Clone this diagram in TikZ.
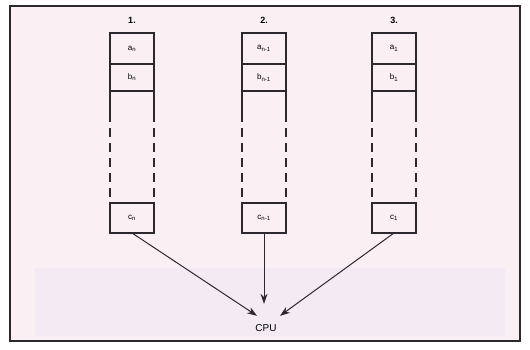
\documentclass[tikz,border=0pt]{standalone}
\usepackage{fontspec}
\setmainfont{Liberation Sans}
\usetikzlibrary{arrows.meta, positioning}
\definecolor{paper}{RGB}{250,239,242}
\definecolor{band}{RGB}{244,234,244}
\definecolor{ink}{RGB}{45,40,45}
\tikzstyle{cell} = [rectangle, draw=ink, line width=1.1pt, minimum width=44pt, inner sep=0pt, outer sep=0pt, font=\fontsize{8}{9}\selectfont]
\tikzstyle{numlabel} = [inner sep=0pt, font=\bfseries\fontsize{9}{10}\selectfont]
\tikzstyle{openside} = [draw=ink, line width=1.1pt, dash pattern=on 31pt off 6pt on 9pt off 6pt on 9pt off 6pt on 9pt off 6pt on 9pt off 6pt on 9pt off 6pt]
\tikzstyle{arrow} = [line width=1pt, draw=ink, ->, >={Stealth[length=10pt,width=7pt]}]

\begin{document}
\begin{tikzpicture}[x=1pt, y=-1pt, node distance=0pt]
        \useasboundingbox (0,0) rectangle (530,349);
        \fill[paper] (10,6) rectangle (520,341);
        \fill[band] (35,268) rectangle (505,336);
        \draw[ink, line width=1.3pt] (10,6) rectangle (520,341);

        % column 1
        \node[cell, minimum height=31pt] (a1) at (132,48.5) {a\textsubscript{n}};
        \node[cell, minimum height=27pt, below=of a1] (b1) {b\textsubscript{n}};
        \node[cell, minimum height=30pt] (c1) at (132,218) {c\textsubscript{n}};
        \node[numlabel, above=9pt of a1] (n1) {1.};
        \draw[openside] (b1.south west) -- (c1.north west);
        \draw[openside] (b1.south east) -- (c1.north east);

        % column 2
        \node[cell, minimum height=31pt] (a2) at (264,48.5) {a\textsubscript{n-1}};
        \node[cell, minimum height=27pt, below=of a2] (b2) {b\textsubscript{n-1}};
        \node[cell, minimum height=30pt] (c2) at (264,218) {c\textsubscript{n-1}};
        \node[numlabel, above=9pt of a2] (n2) {2.};
        \draw[openside] (b2.south west) -- (c2.north west);
        \draw[openside] (b2.south east) -- (c2.north east);

        % column 3
        \node[cell, minimum height=31pt] (a3) at (394,48.5) {a\textsubscript{1}};
        \node[cell, minimum height=27pt, below=of a3] (b3) {b\textsubscript{1}};
        \node[cell, minimum height=30pt] (c3) at (394,218) {c\textsubscript{1}};
        \node[numlabel, above=9pt of a3] (n3) {3.};
        \draw[openside] (b3.south west) -- (c3.north west);
        \draw[openside] (b3.south east) -- (c3.north east);

        \node[minimum height=24pt, inner sep=0pt, font=\fontsize{10}{11}\selectfont] (cpu) at (266,328) {CPU};
        \draw[arrow] (c1.south) -- ([xshift=-9pt]cpu.north);
        \draw[arrow, shorten >=12pt] (c2.south) -- (c2.south |- cpu.north);
        \draw[arrow] (c3.south) -- ([xshift=14pt]cpu.north);
    \end{tikzpicture}
\end{document}
